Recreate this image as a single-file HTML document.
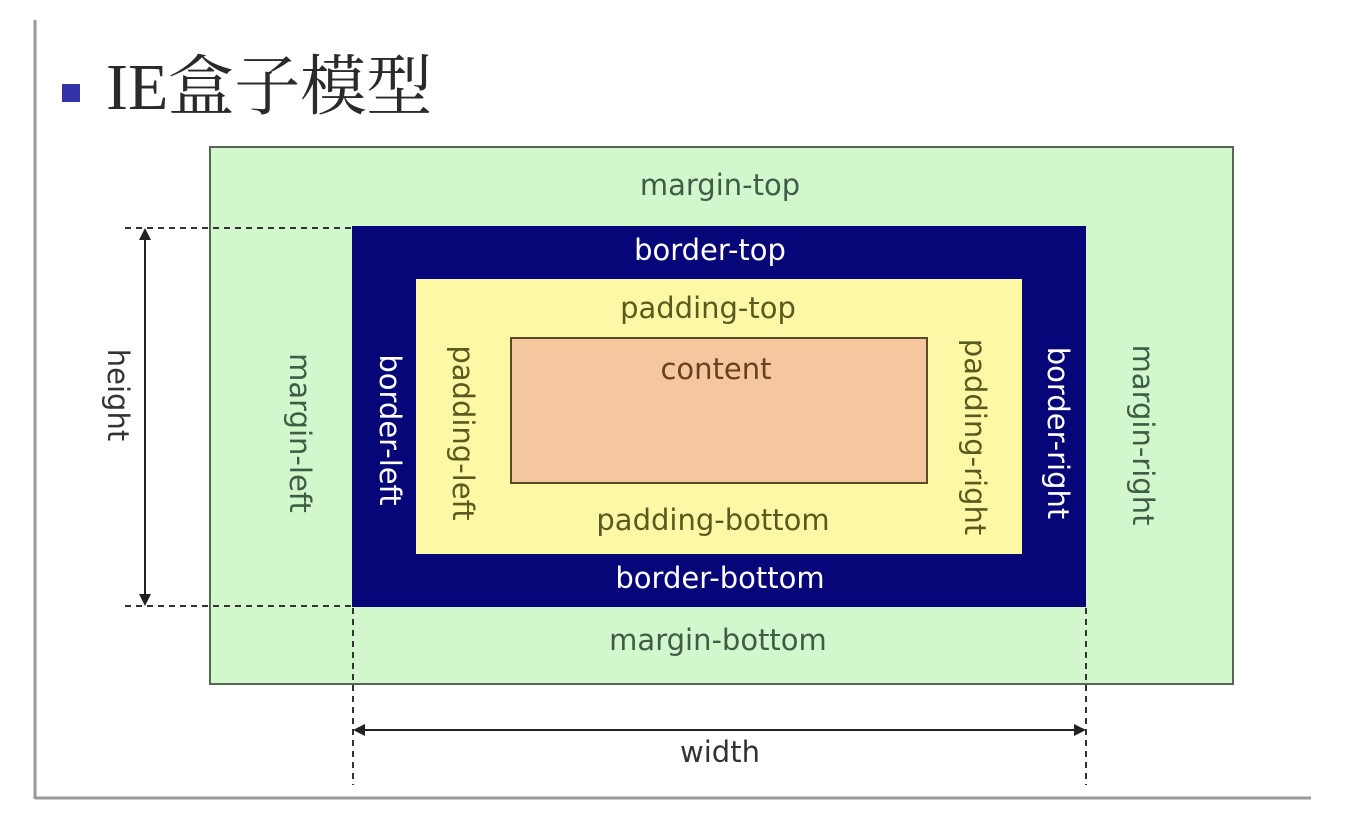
<!DOCTYPE html>
<html><head><meta charset="utf-8"><style>
html,body{margin:0;padding:0;background:#fff;}
svg{display:block;}
.t{font-family:"DejaVu Sans","Liberation Sans",sans-serif;font-size:29px;text-anchor:middle;dominant-baseline:central;}
</style></head><body>
<svg width="1354" height="820" viewBox="0 0 1354 820" xmlns="http://www.w3.org/2000/svg">
<rect width="1354" height="820" fill="#fff"/>
<line x1="35" y1="20" x2="35" y2="799" stroke="#999" stroke-width="3"/>
<line x1="35" y1="798" x2="1311" y2="798" stroke="#999" stroke-width="3"/>
<rect x="62" y="84" width="18" height="18" fill="#3333aa"/>
<text x="106" y="109" font-family="'Liberation Serif','Noto Serif CJK SC',serif" font-size="66" fill="#2a2a2a">IE盒子模型</text>
<rect x="210" y="147" width="1023" height="537" fill="#d3f7cc" stroke="#556655" stroke-width="2"/>
<rect x="352" y="226" width="734" height="381" fill="#060679"/>
<rect x="416" y="279" width="606" height="275" fill="#fdf8a6"/>
<rect x="511" y="338" width="416" height="145" fill="#f4c79e" stroke="#5a4a2a" stroke-width="2"/>
<g stroke="#333" stroke-width="2" stroke-dasharray="6,5" fill="none">
<line x1="125" y1="228" x2="352" y2="228"/>
<line x1="125" y1="606" x2="352" y2="606"/>
<line x1="353" y1="608" x2="353" y2="785"/>
<line x1="1086" y1="608" x2="1086" y2="785"/>
</g>
<g stroke="#222" stroke-width="2">
<line x1="145" y1="236" x2="145" y2="598"/>
<line x1="362" y1="730" x2="1078" y2="730"/>
</g>
<g fill="#222">
<polygon points="145,228 139,240 151,240"/>
<polygon points="145,606 139,594 151,594"/>
<polygon points="353,730 365,724 365,736"/>
<polygon points="1086,730 1074,724 1074,736"/>
</g>
<text class="t" x="720" y="185" fill="#3d5e45">margin-top</text>
<text class="t" x="710" y="250" fill="#fff">border-top</text>
<text class="t" x="708" y="308" fill="#5a5a1e">padding-top</text>
<text class="t" x="716" y="369" fill="#6a3f22">content</text>
<text class="t" x="713" y="520" fill="#5a5a1e">padding-bottom</text>
<text class="t" x="720" y="578" fill="#fff">border-bottom</text>
<text class="t" x="718" y="640" fill="#3d5e45">margin-bottom</text>
<text class="t" x="720" y="752" fill="#333">width</text>
<text class="t" transform="translate(118,395) rotate(90)" fill="#333">height</text>
<text class="t" transform="translate(300,433) rotate(90)" fill="#3d5e45">margin-left</text>
<text class="t" transform="translate(390,430) rotate(90)" fill="#fff">border-left</text>
<text class="t" transform="translate(463,433) rotate(90)" fill="#5a5a1e">padding-left</text>
<text class="t" transform="translate(975,437) rotate(90)" fill="#5a5a1e">padding-right</text>
<text class="t" transform="translate(1058,433) rotate(90)" fill="#fff">border-right</text>
<text class="t" transform="translate(1143,435) rotate(90)" fill="#3d5e45">margin-right</text>
</svg>
</body></html>
